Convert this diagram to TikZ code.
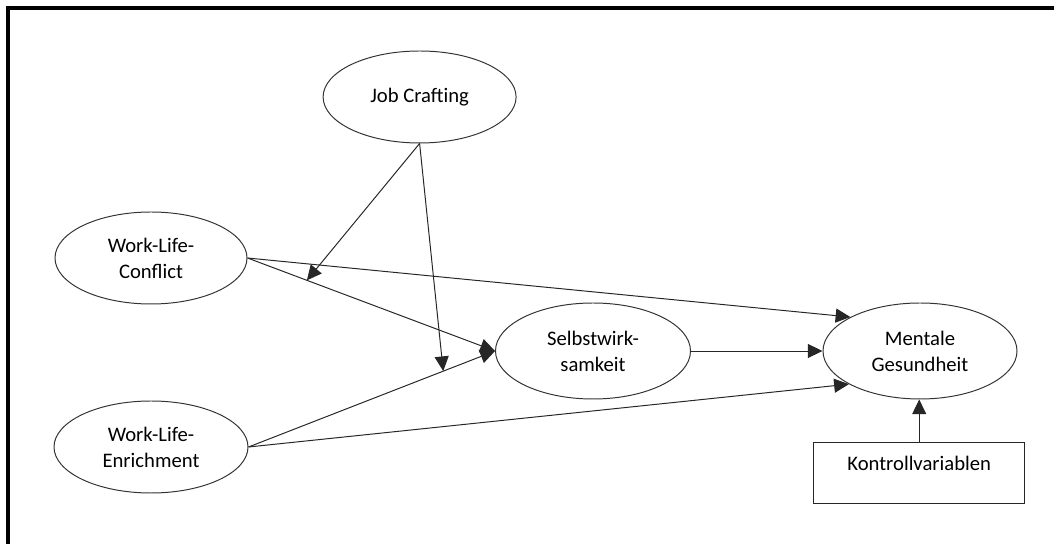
\documentclass[tikz,border=0pt]{standalone}
\usepackage{fontspec}
\setmainfont{Carlito}
\usetikzlibrary{shapes.geometric,arrows.meta}

\begin{document}
\begin{tikzpicture}[
            construct/.style={ellipse, draw=black!80, line width=0.7pt, inner sep=1pt, align=center,
                font=\fontsize{14.7}{18.5}\selectfont, minimum width=4.85cm, minimum height=2.3cm},
            ctrlbox/.style={rectangle, draw=black!85, line width=0.7pt, inner sep=0pt,
                font=\fontsize{14.7}{18.5}\selectfont, minimum width=5.275cm,
                text height=0.7cm, text depth=0.825cm},
            arr/.style={-{Triangle[length=10.5pt,width=10pt]}, draw=black!85, line width=0.7pt}
            ]
            \useasboundingbox (0,0) rectangle (26.35,13.6);
            \clip (0,0) rectangle (26.35,13.6);

            % outer frame
            \draw[line width=2.4pt] (0.2,13.4) rectangle (27,-1);

            \node[construct, minimum width=4.825cm] (jc) at (10.49,11.175) {Job Crafting};
            \node[construct, minimum width=4.8cm] (wlc) at (3.775,7.15) {Work-Life-\\Conflict};
            \node[construct] (wle) at (3.775,2.425) {Work-Life-\\Enrichment};
            \node[construct, minimum width=4.875cm, minimum height=2.4cm] (sw) at (14.825,4.825) {Selbstwirk-\\samkeit};
            \node[construct, minimum height=2.4cm] (mg) at (23,4.825) {Mentale\\Gesundheit};
            \node[ctrlbox] (kv) at (22.98,1.775) {Kontrollvariablen};

            \draw[arr] (wlc.east) -- (mg.154);
            \draw[arr] (wlc.east) -- coordinate[pos=0.24] (m1) (sw.west);
            \draw[arr] (wle.east) -- coordinate[pos=0.79] (m2) (sw.west);
            \draw[arr] (wle.east) -- (mg.205);
            \draw[arr] (sw.east) -- (mg.west);
            \draw[arr] (kv.north) -- (kv.north |- mg.south);

            % moderation
            \draw[arr] (jc.south) -- (m1);
            \draw[arr] (jc.south) -- (m2);

\end{tikzpicture}
\end{document}
